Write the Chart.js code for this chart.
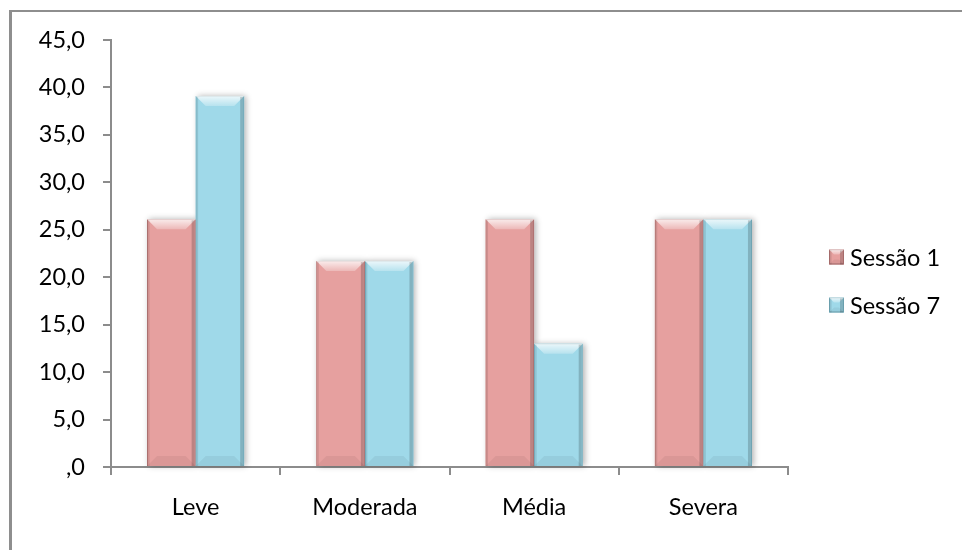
<!DOCTYPE html>
<html>
<head>
<meta charset="utf-8">
<script src="https://cdn.jsdelivr.net/npm/chart.js@4.4.0/dist/chart.umd.min.js"></script>
<style>
  html, body { margin: 0; padding: 0; background: #fff; }
  canvas { display: block; }
</style>
</head>
<body>
<canvas id="chart" width="962" height="550"></canvas>
<script>
// Dados
const categories = ['Leve', 'Moderada', 'Média', 'Severa'];
const seriesNames = ['Sessão 1', 'Sessão 7'];
const sessao1 = [26.1, 21.7, 26.1, 26.1];
const sessao7 = [39.1, 21.7, 13.0, 26.1];
const yTickLabels = [',0', '5,0', '10,0', '15,0', '20,0', '25,0', '30,0', '35,0', '40,0', '45,0'];

const fills = ['#E6A09F', '#9FD9E9'];
const edges = ['#A56B6A', '#6A9FAD'];
const axisColor = '#8c8c8c';
const font = { family: 'Lato, "Open Sans", sans-serif', size: 23.5 };

// Relevo estilo Excel
function bevel(ctx, l, t, r, b, d) {
    d = Math.min(d, (r - l) / 2, (b - t) / 2);
    ctx.save();
    let g = ctx.createLinearGradient(0, t, 0, t + d);
    g.addColorStop(0, 'rgba(255,255,255,0.8)');
    g.addColorStop(1, 'rgba(255,255,255,0.25)');
    ctx.fillStyle = g;
    ctx.beginPath();
    ctx.moveTo(l, t); ctx.lineTo(r, t); ctx.lineTo(r - d, t + d); ctx.lineTo(l + d, t + d);
    ctx.closePath(); ctx.fill();

    ctx.fillStyle = 'rgba(0,0,0,0.05)';
    ctx.beginPath();
    ctx.moveTo(l, b); ctx.lineTo(r, b); ctx.lineTo(r - d, b - d); ctx.lineTo(l + d, b - d);
    ctx.closePath(); ctx.fill();

    ctx.fillStyle = 'rgba(0,0,0,0.18)';
    ctx.fillRect(r - 4, t + 1, 3, b - t - 1);
    ctx.fillStyle = 'rgba(0,0,0,0.10)';
    ctx.fillRect(l + 1, t + 1, 1.5, b - t - 1);
    ctx.restore();
}

const bevelPlugin = {
    id: 'bevel',
    beforeDraw(chart) {
        const ctx = chart.ctx;
        ctx.save();
        ctx.fillStyle = '#8e8e8e';
        ctx.fillRect(9, 10, 3, 540);
        ctx.fillRect(9, 10, 953, 2);
        ctx.restore();
    },
    beforeDatasetsDraw(chart) {
        const ctx = chart.ctx;
        chart.data.datasets.forEach((ds, i) => {
            chart.getDatasetMeta(i).data.forEach(bar => {
                const p = bar.getProps(['x', 'y', 'base', 'width'], true);
                ctx.save();
                ctx.shadowColor = 'rgba(0,0,0,0.3)';
                ctx.shadowBlur = 6;
                ctx.shadowOffsetX = 2;
                ctx.fillStyle = fills[i];
                ctx.fillRect(p.x - p.width / 2, p.y, p.width, p.base - p.y);
                ctx.restore();
            });
        });
    },
    afterDatasetsDraw(chart) {
        const ctx = chart.ctx;
        chart.data.datasets.forEach((ds, i) => {
            chart.getDatasetMeta(i).data.forEach(bar => {
                const p = bar.getProps(['x', 'y', 'base', 'width'], true);
                bevel(ctx, p.x - p.width / 2, p.y, p.x + p.width / 2, p.base, 10);
            });
        });
    },
    afterDraw(chart) {
        // Legenda
        const ctx = chart.ctx;
        const x = chart.chartArea.right + 41;
        const yMid = 281;
        ctx.save();
        chart.data.datasets.forEach((ds, i) => {
            const cy = yMid + (i - 0.5) * 48;
            ctx.fillStyle = fills[i];
            ctx.fillRect(x, cy - 7.5, 15, 15);
            ctx.strokeStyle = edges[i];
            ctx.lineWidth = 1;
            ctx.strokeRect(x + 0.5, cy - 7, 14, 14);
            bevel(ctx, x, cy - 7.5, x + 15, cy + 7.5, 5);
            ctx.fillStyle = '#000';
            ctx.font = font.size + 'px ' + font.family;
            ctx.textBaseline = 'middle';
            ctx.fillText(ds.label, x + 21, cy + 1);
        });
        ctx.restore();
    }
};

const ctx = document.getElementById('chart').getContext('2d');
new Chart(ctx, {
    type: 'bar',
    data: {
        labels: categories,
        datasets: [{
            label: seriesNames[0],
            data: sessao1,
            backgroundColor: fills[0],
            borderColor: edges[0],
            borderWidth: 1
        }, {
            label: seriesNames[1],
            data: sessao7,
            backgroundColor: fills[1],
            borderColor: edges[1],
            borderWidth: 1
        }]
    },
    options: {
        responsive: false,
        animation: false,
        devicePixelRatio: 1,
        categoryPercentage: 0.574,
        barPercentage: 1.0,
        layout: {
            padding: { top: 40, right: 174, bottom: 0, left: 0 }
        },
        scales: {
            y: {
                min: 0,
                max: 45,
                ticks: {
                    stepSize: 5,
                    font: font,
                    color: '#000',
                    padding: 18,
                    callback: (v, i) => yTickLabels[i]
                },
                grid: { drawOnChartArea: false, tickLength: 8, color: axisColor, lineWidth: 2 },
                border: { color: axisColor, width: 2 },
                afterFit: s => { s.width = 111; }
            },
            x: {
                ticks: { font: font, color: '#000', padding: 18 },
                grid: { drawOnChartArea: false, tickLength: 8, color: axisColor, lineWidth: 2, offset: true },
                border: { color: axisColor, width: 2 },
                afterFit: s => { s.height = 83; }
            }
        },
        plugins: {
            legend: { display: false },
            tooltip: { enabled: false }
        }
    },
    plugins: [bevelPlugin]
});
</script>
</body>
</html>
